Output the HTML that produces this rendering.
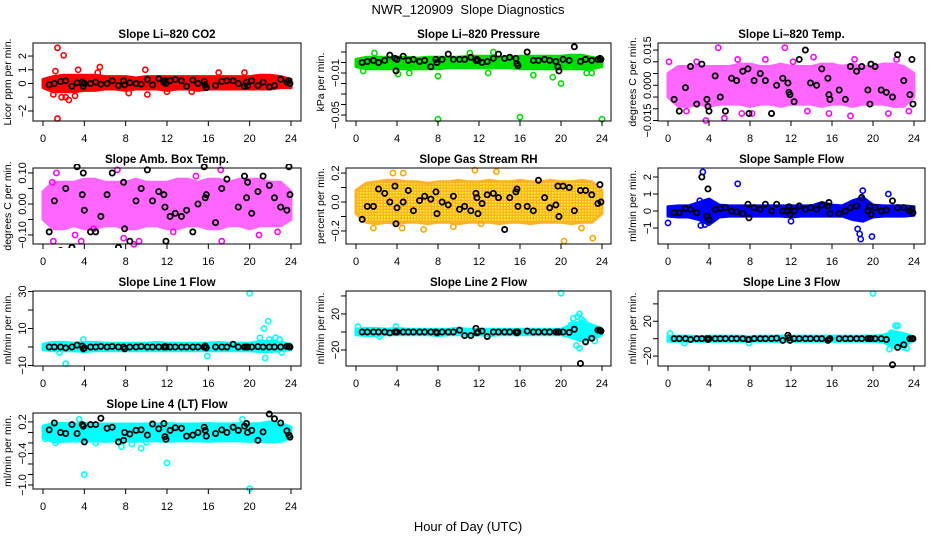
<!DOCTYPE html>
<html><head><meta charset="utf-8">
<style>
html,body{margin:0;padding:0;background:#fff;}
svg{display:block;font-family:"Liberation Sans",Arial,sans-serif;}
</style></head>
<body>
<svg id="chart" width="936" height="540" viewBox="0 0 936 540">
<defs>
<pattern id="rhpat" width="3" height="3" patternUnits="userSpaceOnUse">
<rect width="3" height="3" fill="#ffa500"/><rect x="0" y="0" width="1.5" height="1.5" fill="#ffff00"/>
</pattern>
</defs>
<text x="468" y="14" text-anchor="middle" font-size="13">NWR_120909&#160; Slope Diagnostics</text>
<text x="468" y="531" text-anchor="middle" font-size="13">Hour of Day (UTC)</text>
</svg>
<script>
// shared sample hours
const bandHours = [0,1,2,3,4,5,6,7,8,9,10,11,12,13,14,15,16,17,18,19,20,21,22,23,24];
const blackHours = [0.6,1.1,1.7,2.2,2.8,3.3,3.8,3.9,4.0,4.6,5.1,5.6,6.2,6.7,7.3,7.8,7.9,8.4,9.0,9.5,10.1,10.6,11.2,11.7,11.8,11.9,12.3,12.8,13.4,13.9,14.5,15.0,15.6,15.7,15.8,16.7,17.3,17.8,18.4,18.9,19.5,19.7,19.8,20.2,20.8,21.3,21.9,22.4,23.0,23.6,23.8,23.9];
const xTicks = [0,4,8,12,16,20,24];

// CO2
const co2Lo = [-0.3,-0.6,-0.6,-0.6,-0.5,-0.5,-0.4,-0.4,-0.5,-0.4,-0.4,-0.4,-0.5,-0.4,-0.4,-0.5,-0.4,-0.4,-0.4,-0.4,-0.4,-0.4,-0.4,-0.3,-0.3];
const co2Hi = [0.3,0.5,0.6,0.6,0.6,0.6,0.5,0.5,0.5,0.4,0.5,0.5,0.5,0.5,0.5,0.5,0.5,0.5,0.5,0.5,0.5,0.6,0.6,0.5,0.3];
const co2OutX = [1.4,2.0,1.4,1.2,3.4,5.5,5.3,9.9,2.5,1.8,3.1,8.3,10.1,14.4,17.0,19.5,12.0,2.2,1.0];
const co2OutY = [2.6,2.05,-2.55,0.9,1.0,1.2,0.8,1.0,-1.2,-1.0,-0.9,-0.7,-0.8,-0.6,0.8,0.8,-0.6,-1.0,-0.8];
const co2Blk = [-0.1,0,0.15,0.2,-0.2,0.05,0.1,-0.2,0,0,0.1,-0.05,0,0.2,-0.15,0.2,-0.1,0.05,0,-0.05,0.3,-0.1,0.35,0.1,0.2,0,0.2,0.3,0.2,-0.2,0.25,0,0.15,-0.1,-0.3,-0.15,0.15,0.2,0.2,0,-0.2,0.1,-0.15,0.2,-0.15,0.1,-0.25,-0.15,0.3,0.1,0.2,0];
const co2Ticks = [-2,-1,0,1,2];
const co2Labels = ["-2","","0","1","2"];

// Pressure
const prLo = [-0.004,-0.006,-0.006,-0.006,-0.006,-0.006,-0.006,-0.006,-0.006,-0.005,-0.005,-0.005,-0.005,-0.005,-0.005,-0.005,-0.006,-0.006,-0.006,-0.006,-0.006,-0.006,-0.006,-0.006,-0.004];
const prHi = [0.003,0.005,0.005,0.005,0.005,0.005,0.004,0.005,0.005,0.005,0.005,0.006,0.006,0.006,0.005,0.005,0.006,0.006,0.006,0.006,0.006,0.007,0.007,0.005,0.003];
const prOutX = [1.8,13.4,11.1,8.0,8.0,16.0,24.0,20.0,19.2,17.3,4.1,0.7,5.2,12.9,22.5,23.0];
const prOutY = [0.009,0.01,0.009,-0.013,-0.054,-0.052,-0.054,-0.02,-0.014,-0.012,-0.011,-0.008,-0.01,-0.01,-0.01,-0.01];
const prBlk = [0.0,0.001,0.002,0.0,0.002,0.007,0.004,-0.008,0.003,0.006,0.002,0.003,0.001,0.002,-0.004,0.003,0.0,0.003,0.008,0.003,0.003,0.003,0.005,0.002,0.003,0.002,0.0,0.001,0.004,0.008,0.004,0.005,0.004,-0.001,-0.003,0.01,0.002,0.002,0.003,0.002,0.001,-0.004,-0.008,0.003,0.002,0.015,0.001,0.003,0.002,0.003,0.004,0.003];
const prTicks = [0.01,0,-0.01,-0.02,-0.03,-0.04,-0.05];
const prLabels = ["","","-0.01","","","","-0.05"];

// Li-820 Temp
const tLo = [-0.005,-0.009,-0.009,-0.008,-0.009,-0.008,-0.008,-0.008,-0.009,-0.008,-0.008,-0.009,-0.008,-0.008,-0.008,-0.009,-0.008,-0.008,-0.009,-0.008,-0.008,-0.008,-0.009,-0.009,-0.005];
const tHi = [0.005,0.008,0.008,0.008,0.008,0.008,0.008,0.009,0.009,0.008,0.008,0.009,0.008,0.008,0.008,0.009,0.009,0.008,0.009,0.008,0.008,0.009,0.009,0.008,0.005];
const tOutX = [0.1,3.7,4.9,11.4,14.2,8.2,1.8,2.8,5.5,7.2,9.5,13.6,15.7,18.2,21.5,17.8,12.2,6.8,22.3,23.5];
const tOutY = [0.010,-0.015,0.016,0.016,0.012,-0.012,-0.011,0.010,-0.014,-0.012,0.011,-0.011,-0.012,0.011,-0.012,-0.013,0.010,0.011,0.011,-0.011];
const tBlk = [-0.006,-0.011,-0.001,0.008,-0.008,0.009,-0.006,-0.009,-0.011,0.004,-0.005,-0.011,0.003,0.002,0.006,0.007,-0.012,0.002,0.005,0.002,-0.012,0.000,0.003,0.001,-0.003,-0.004,-0.007,0.011,0.015,0.001,0.000,0.007,0.003,-0.004,-0.006,-0.002,-0.006,0.008,0.006,0.008,-0.002,-0.008,0.009,0.008,-0.002,-0.003,-0.005,0.013,0.002,-0.004,0.011,-0.008];
const tTicks = [0.015,0.01,0.005,0,-0.005,-0.01,-0.015];
const tLabels = ["0.015","","","0.000","","","-0.015"];

// Amb box temp
const aLo = [-0.05,-0.08,-0.08,-0.07,-0.08,-0.08,-0.07,-0.07,-0.08,-0.08,-0.07,-0.07,-0.08,-0.08,-0.07,-0.07,-0.08,-0.08,-0.07,-0.07,-0.08,-0.07,-0.07,-0.07,-0.05];
const aHi = [0.04,0.07,0.07,0.07,0.08,0.08,0.07,0.07,0.07,0.08,0.07,0.07,0.07,0.08,0.08,0.07,0.08,0.08,0.07,0.08,0.08,0.08,0.07,0.07,0.04];
const aOutX = [1.0,1.3,3.7,7.2,8.8,9.3,17.2,17.3,22.7,7.8,4.9,0.9,14.8,3.1,12.6,20.9];
const aOutY = [-0.12,0.10,-0.12,0.11,-0.13,-0.12,0.11,-0.12,-0.09,-0.11,-0.08,0.07,0.09,-0.10,-0.09,-0.10];
const aBlk = [-0.09,0.01,-0.15,0.05,-0.14,0.12,0.03,0.10,-0.02,-0.09,-0.09,-0.04,0.03,0.10,-0.14,0.07,-0.08,-0.12,0.01,0.05,0.11,0.01,0.04,0.03,-0.01,-0.12,-0.04,-0.03,-0.04,-0.02,-0.09,0.0,0.12,0.02,0.03,-0.06,0.05,0.08,0.14,-0.01,0.09,0.02,0.07,-0.03,0.04,0.09,0.06,0.02,-0.01,-0.02,0.12,0.03];
const aTicks = [0.1,0.05,0,-0.05,-0.1];
const aLabels = ["0.10","","0.00","","-0.10"];

// Gas stream RH
const rhLo = [-0.08,-0.14,-0.15,-0.14,-0.15,-0.14,-0.14,-0.15,-0.14,-0.14,-0.15,-0.14,-0.14,-0.14,-0.15,-0.14,-0.14,-0.15,-0.14,-0.14,-0.14,-0.15,-0.14,-0.14,-0.08];
const rhHi = [0.08,0.13,0.14,0.15,0.15,0.14,0.14,0.13,0.14,0.14,0.15,0.14,0.14,0.15,0.14,0.14,0.15,0.14,0.14,0.15,0.14,0.14,0.15,0.14,0.08];
const rhOutX = [3.6,4.6,11.6,13.7,1.7,20.3,23.1,6.6,4.5,12.2,9.5,22.0];
const rhOutY = [0.2,0.2,0.22,0.21,-0.18,-0.27,-0.25,-0.19,-0.18,-0.15,-0.17,-0.18];
const rhBlk = [-0.12,-0.03,-0.03,0.09,0.06,0.0,0.11,-0.15,-0.04,0.0,0.08,-0.06,0.01,0.04,0.02,0.07,-0.08,0.0,-0.02,0.04,-0.05,-0.03,-0.06,0.06,0.03,-0.08,-0.01,0.05,0.06,0.03,-0.19,0.03,0.07,0.09,-0.03,-0.03,-0.06,0.15,0.03,-0.04,-0.02,0.11,-0.1,0.11,0.1,-0.06,0.08,0.08,0.05,-0.01,0.12,0.0];
const rhTicks = [0.2,0.1,0,-0.1,-0.2];
const rhLabels = ["0.2","","0.0","","-0.2"];

// Sample flow
const sfLo = [-0.3,-0.35,-0.35,-0.5,-0.8,-0.35,-0.3,-0.3,-0.3,-0.3,-0.3,-0.3,-0.35,-0.3,-0.3,-0.3,-0.3,-0.3,-0.5,-0.6,-0.35,-0.3,-0.3,-0.3,-0.25];
const sfHi = [0.25,0.3,0.3,0.5,0.7,0.35,0.3,0.3,0.3,0.3,0.3,0.3,0.3,0.3,0.3,0.5,0.35,0.3,0.6,0.8,0.35,0.3,0.3,0.3,0.25];
const sfOutX = [0.0,3.4,6.8,18.5,18.7,18.8,19.9,3.2,3.6,19.0,21.5,3.1,12.0];
const sfOutY = [-0.7,2.3,1.6,-1.05,-1.35,-1.65,-1.5,-0.85,-0.8,1.2,1.0,0.6,-0.6];
const sfBlk = [-0.1,-0.1,0.15,0.1,-0.1,2.0,-0.3,1.3,-0.5,0.1,0.15,0.2,0.0,-0.05,-0.15,0.4,-0.4,0.2,0.1,0.4,0.0,0.4,0.0,0.0,0.25,-0.2,0.0,0.3,0.1,0.2,0.1,0.35,0.3,0.5,-0.15,-0.15,0.0,0.2,0.3,0.8,0.0,0.3,-0.2,0.2,0.0,0.05,0.6,0.2,0.2,0.0,0.1,-0.1];
const sfTicks = [2,1,0,-1];
const sfLabels = ["2","1","0","-1"];

// Line 1 flow
const l1Lo = [-1.5,-2,-2,-2,-2.5,-2,-2,-2,-2,-2,-2,-2,-2,-2,-2,-2,-2,-2,-2,-2,-2,-2.5,-2.5,-2,-1.5];
const l1Hi = [1.5,2.5,2.5,2,2.5,2.5,2,2,2,2,2,2.5,2,2,2,2,2,2.5,2,2,2,3,3,2.5,1.5];
const l1OutX = [20.0,21.8,21.4,21.0,22.5,21.5,2.2,1.6,3.9,15.9,23.1,22.9,21.9];
const l1OutY = [29,14,10,5,5,-6,-9,-3,4,-5,-3,4,4];
const l1Blk = [0,0,0,-0.5,0,1,0.5,-1,-0.5,0,0,0.3,0,0.3,0,0,-1,0,0,0.3,0,0,0,0,0.3,0,0,0,0,0,0,0,0,0.5,-0.5,0,0,0,1.5,0,0,0,0,0,0.2,0,0,0,0,0.3,0.3,0];
const l1Ticks = [30,20,10,0,-10];
const l1Labels = ["30","","10","","-10"];

// Line 2 flow
const l2Lo = [-3,-4,-4,-3,-3,-3,-3,-3,-4,-3,-3,-4,-3,-4,-3,-3,-3,-3,-3,-3,-3,-6,-10,-8,-3];
const l2Hi = [3,4,4,3,4,3,3,3,3,3,4,3,3,3,3,3,3,3,3,3,3,8,12,8,3];
const l2OutX = [20.0,21.8,21.6,22.0,21.2,22.2,21.5,21.8,22.4,23.3,21.0,22.8,0.2,3.9,2.3];
const l2OutY = [43,20,17,14,15,12,-15,-18,-10,-10,8,5,6,6,-5];
const l2Blk = [0,0,0,0,0,-1,0,0,0,0,0,0,0,0,0,0,-1,0,0,0,2,-4,-4,4,-1,0,1,-5,0,0,0,0,0,-1,0,1,0,0,0,0,0,0,0,0,-0.5,3,-35,-11,-7,2,2,1];
const l2Ticks = [40,20,0,-20];
const l2Labels = ["","20","","-20"];

// Line 3 flow
const l3Lo = [-3,-3,-3,-3,-3,-3,-3,-3,-3,-3,-3,-3,-3,-3,-3,-3,-3,-3,-3,-3,-3,-4,-10,-8,-2];
const l3Hi = [3,3,3,2,3,3,3,3,2,3,3,3,3,3,3,3,3,3,3,3,3,4,8,6,2];
const l3OutX = [20.0,22.2,22.4,21.8,21.6,22.3,23.0,23.3,0.2,1.6,7.9];
const l3OutY = [52,15,15,7,-12,-8,-10,-11,6,-5,-5];
const l3Blk = [0,0,0,-1,0,0,0,-1,0,0,0,0,0,0,0,-1,-1,0,0,0,0,0.5,-2,4,1,-2,0,0,0,0,0,0,-2,-1,0,0,0,0,0,0,0,0,0,0,0,-1,-30,-10,-7,0,0,0];
const l3Ticks = [40,20,0,-20];
const l3Labels = ["","20","","-20"];

// Line 4 flow
const l4Lo = [-0.1,-0.18,-0.17,-0.16,-0.17,-0.16,-0.17,-0.16,-0.16,-0.17,-0.16,-0.16,-0.17,-0.16,-0.16,-0.16,-0.17,-0.16,-0.16,-0.16,-0.17,-0.17,-0.18,-0.17,-0.1];
const l4Hi = [0.12,0.17,0.17,0.16,0.17,0.16,0.16,0.16,0.16,0.16,0.16,0.16,0.17,0.16,0.16,0.16,0.17,0.16,0.16,0.17,0.16,0.17,0.2,0.17,0.1];
const l4OutX = [4.0,12.0,20.0,9.5,7.6,8.6,3.5,1.2,5.1,10.0,19.3,0.2];
const l4OutY = [-0.8,-0.58,-1.07,-0.3,-0.27,-0.22,0.25,-0.2,-0.2,-0.19,0.25,-0.12];
const l4Blk = [0.05,0.18,0.0,-0.02,0.15,-0.02,0.15,0.12,-0.18,0.15,0.15,0.27,0.08,0.1,-0.18,-0.15,0.0,-0.03,0.04,0.05,-0.05,0.16,0.07,0.17,-0.08,-0.13,0.04,0.09,0.08,-0.07,-0.05,0.0,0.1,0.04,-0.07,-0.02,0.05,0.0,0.1,0.04,0.12,0.17,0.0,0.04,-0.15,0.01,0.35,0.26,0.18,0.03,-0.05,-0.09];
const l4Ticks = [0.2,0,-0.2,-0.4,-0.6,-0.8,-1.0];
const l4Labels = ["0.2","","","-0.4","","","-1.0"];

const NS = "http://www.w3.org/2000/svg";
const svg = document.getElementById("chart");
const cols = [{b0:33,b1:301,x0:43,x1:291},{b0:346,b1:611,x0:356,x1:602},{b0:658,b1:925,x0:668,x1:914}];
const rows = [{t:43,b:121},{t:168,b:244},{t:291,b:366},{t:413,b:489}];

const panels = [
 {name:"co2",title:"Slope Li-820 CO2",ylab:"Licor ppm per min.",c:0,r:0,ylim:[-2.73,2.95],lo:co2Lo,hi:co2Hi,ox:co2OutX,oy:co2OutY,blk:co2Blk,ticks:co2Ticks,labels:co2Labels,color:"#ff0000",fill:"#ff0000",op:1},
 {name:"pressure",title:"Slope Li-820 Pressure",ylab:"kPa per min.",c:1,r:0,ylim:[-0.0557,0.0186],lo:prLo,hi:prHi,ox:prOutX,oy:prOutY,blk:prBlk,ticks:prTicks,labels:prLabels,color:"#00dd00",fill:"#00e000",op:1},
 {name:"li820-temp",title:"Slope Li-820 Temp.",ylab:"degrees C per min.",c:2,r:0,ylim:[-0.0152,0.018],lo:tLo,hi:tHi,ox:tOutX,oy:tOutY,blk:tBlk,ticks:tTicks,labels:tLabels,color:"#ff00ff",fill:"#ff00ff",op:0.6},
 {name:"amb-box-temp",title:"Slope Amb. Box Temp.",ylab:"degrees C per min.",c:0,r:1,ylim:[-0.129,0.116],lo:aLo,hi:aHi,ox:aOutX,oy:aOutY,blk:aBlk,ticks:aTicks,labels:aLabels,color:"#ff00ff",fill:"#ff00ff",op:0.6},
 {name:"gas-stream-rh",title:"Slope Gas Stream RH",ylab:"percent per min.",c:1,r:1,ylim:[-0.29,0.235],lo:rhLo,hi:rhHi,ox:rhOutX,oy:rhOutY,blk:rhBlk,ticks:rhTicks,labels:rhLabels,color:"#ffa500",fill:"url(#rhpat)",op:0.85},
 {name:"sample-flow",title:"Slope Sample Flow",ylab:"ml/min per min.",c:2,r:1,ylim:[-1.94,2.53],lo:sfLo,hi:sfHi,ox:sfOutX,oy:sfOutY,blk:sfBlk,ticks:sfTicks,labels:sfLabels,color:"#0000ff",fill:"#0000ff",op:1},
 {name:"line1-flow",title:"Slope Line 1 Flow",ylab:"ml/min per min.",c:0,r:2,ylim:[-10.3,30.3],lo:l1Lo,hi:l1Hi,ox:l1OutX,oy:l1OutY,blk:l1Blk,ticks:l1Ticks,labels:l1Labels,color:"#00ffff",fill:"#00ffff",op:1},
 {name:"line2-flow",title:"Slope Line 2 Flow",ylab:"ml/min per min.",c:1,r:2,ylim:[-37.8,45.5],lo:l2Lo,hi:l2Hi,ox:l2OutX,oy:l2OutY,blk:l2Blk,ticks:l2Ticks,labels:l2Labels,color:"#00ffff",fill:"#00ffff",op:1},
 {name:"line3-flow",title:"Slope Line 3 Flow",ylab:"ml/min per min.",c:2,r:2,ylim:[-31.4,54.8],lo:l3Lo,hi:l3Hi,ox:l3OutX,oy:l3OutY,blk:l3Blk,ticks:l3Ticks,labels:l3Labels,color:"#00ffff",fill:"#00ffff",op:1},
 {name:"line4-flow",title:"Slope Line 4 (LT) Flow",ylab:"ml/min per min.",c:0,r:3,ylim:[-1.076,0.37],lo:l4Lo,hi:l4Hi,ox:l4OutX,oy:l4OutY,blk:l4Blk,ticks:l4Ticks,labels:l4Labels,color:"#00ffff",fill:"#00ffff",op:1}
];

function mk(tag, attrs, parent) {
  const e = document.createElementNS(NS, tag);
  for (const k in attrs) e.setAttribute(k, attrs[k]);
  parent.appendChild(e);
  return e;
}

panels.forEach(p => {
  const col = cols[p.c], row = rows[p.r];
  const xs = h => col.x0 + (h / 24) * (col.x1 - col.x0);
  const ys = v => row.b - (v - p.ylim[0]) / (p.ylim[1] - p.ylim[0]) * (row.b - row.t);
  const g = mk("g", {}, svg);
  
  

  const clipId = "clip-" + p.name;
  const cp = mk("clipPath", {id: clipId}, g);
  mk("rect", {x: col.b0 - 4, y: row.t - 4, width: col.b1 - col.b0 + 8, height: row.b - row.t + 8}, cp);

  const pts = mk("g", {"clip-path": "url(#" + clipId + ")"}, g);
  
  

  let d = "";
  bandHours.forEach((h, i) => { d += (i ? "L" : "M") + xs(h).toFixed(1) + "," + ys(p.hi[i]).toFixed(1); });
  for (let i = bandHours.length - 1; i >= 0; i--) d += "L" + xs(bandHours[i]).toFixed(1) + "," + ys(p.lo[i]).toFixed(1);
  d += "Z";
  const band = mk("path", {d: d, fill: p.fill, stroke: p.color, "stroke-width": 3, "stroke-linejoin": "round", opacity: p.op}, pts);
  
  

  p.ox.forEach((h, i) => {
    const c = mk("circle", {cx: xs(h), cy: ys(p.oy[i]), r: 2.6, fill: "none", stroke: p.color, "stroke-width": 1.6}, pts);
    
    
  });
  blackHours.forEach((h, i) => {
    const c = mk("circle", {cx: xs(h), cy: ys(p.blk[i]), r: 2.6, fill: "none", stroke: "#000", "stroke-width": 1.8}, pts);
    
    
  });

  const box = mk("rect", {x: col.b0, y: row.t, width: col.b1 - col.b0, height: row.b - row.t, fill: "none", stroke: "#000", "stroke-width": 1}, g);
  
  

  xTicks.forEach(t => {
    const x = xs(t);
    mk("line", {x1: x, x2: x, y1: row.b, y2: row.b + 5, stroke: "#000"}, g);
    const tx = mk("text", {x: x, y: row.b + 21, "text-anchor": "middle", "font-size": 11}, g);
    tx.textContent = t;
    
    
  });

  p.ticks.forEach((t, i) => {
    const y = ys(t);
    mk("line", {x1: col.b0 - 5, x2: col.b0, y1: y, y2: y, stroke: "#000"}, g);
    if (p.labels[i]) {
      const lx = col.b0 - 7;
      const tx = mk("text", {x: lx, y: y, "text-anchor": "middle", "font-size": 11, transform: "rotate(-90 " + lx + " " + y + ")"}, g);
      tx.textContent = p.labels[i].replace("-", "\u2212");
      
      
    }
  });

  const ty = (row.t + row.b) / 2, tx0 = col.b0 - 22;
  const yl = mk("text", {x: tx0, y: ty, "text-anchor": "middle", "font-size": 10.5, transform: "rotate(-90 " + tx0 + " " + ty + ")"}, g);
  yl.textContent = p.ylab;
  
  

  const ti = mk("text", {x: (col.b0 + col.b1) / 2, y: row.t - 5, "text-anchor": "middle", "font-size": 11.5, "font-weight": "bold"}, g);
  ti.textContent = p.title.replace("-", "\u2013");
  
  
});
</script>
</body></html>
